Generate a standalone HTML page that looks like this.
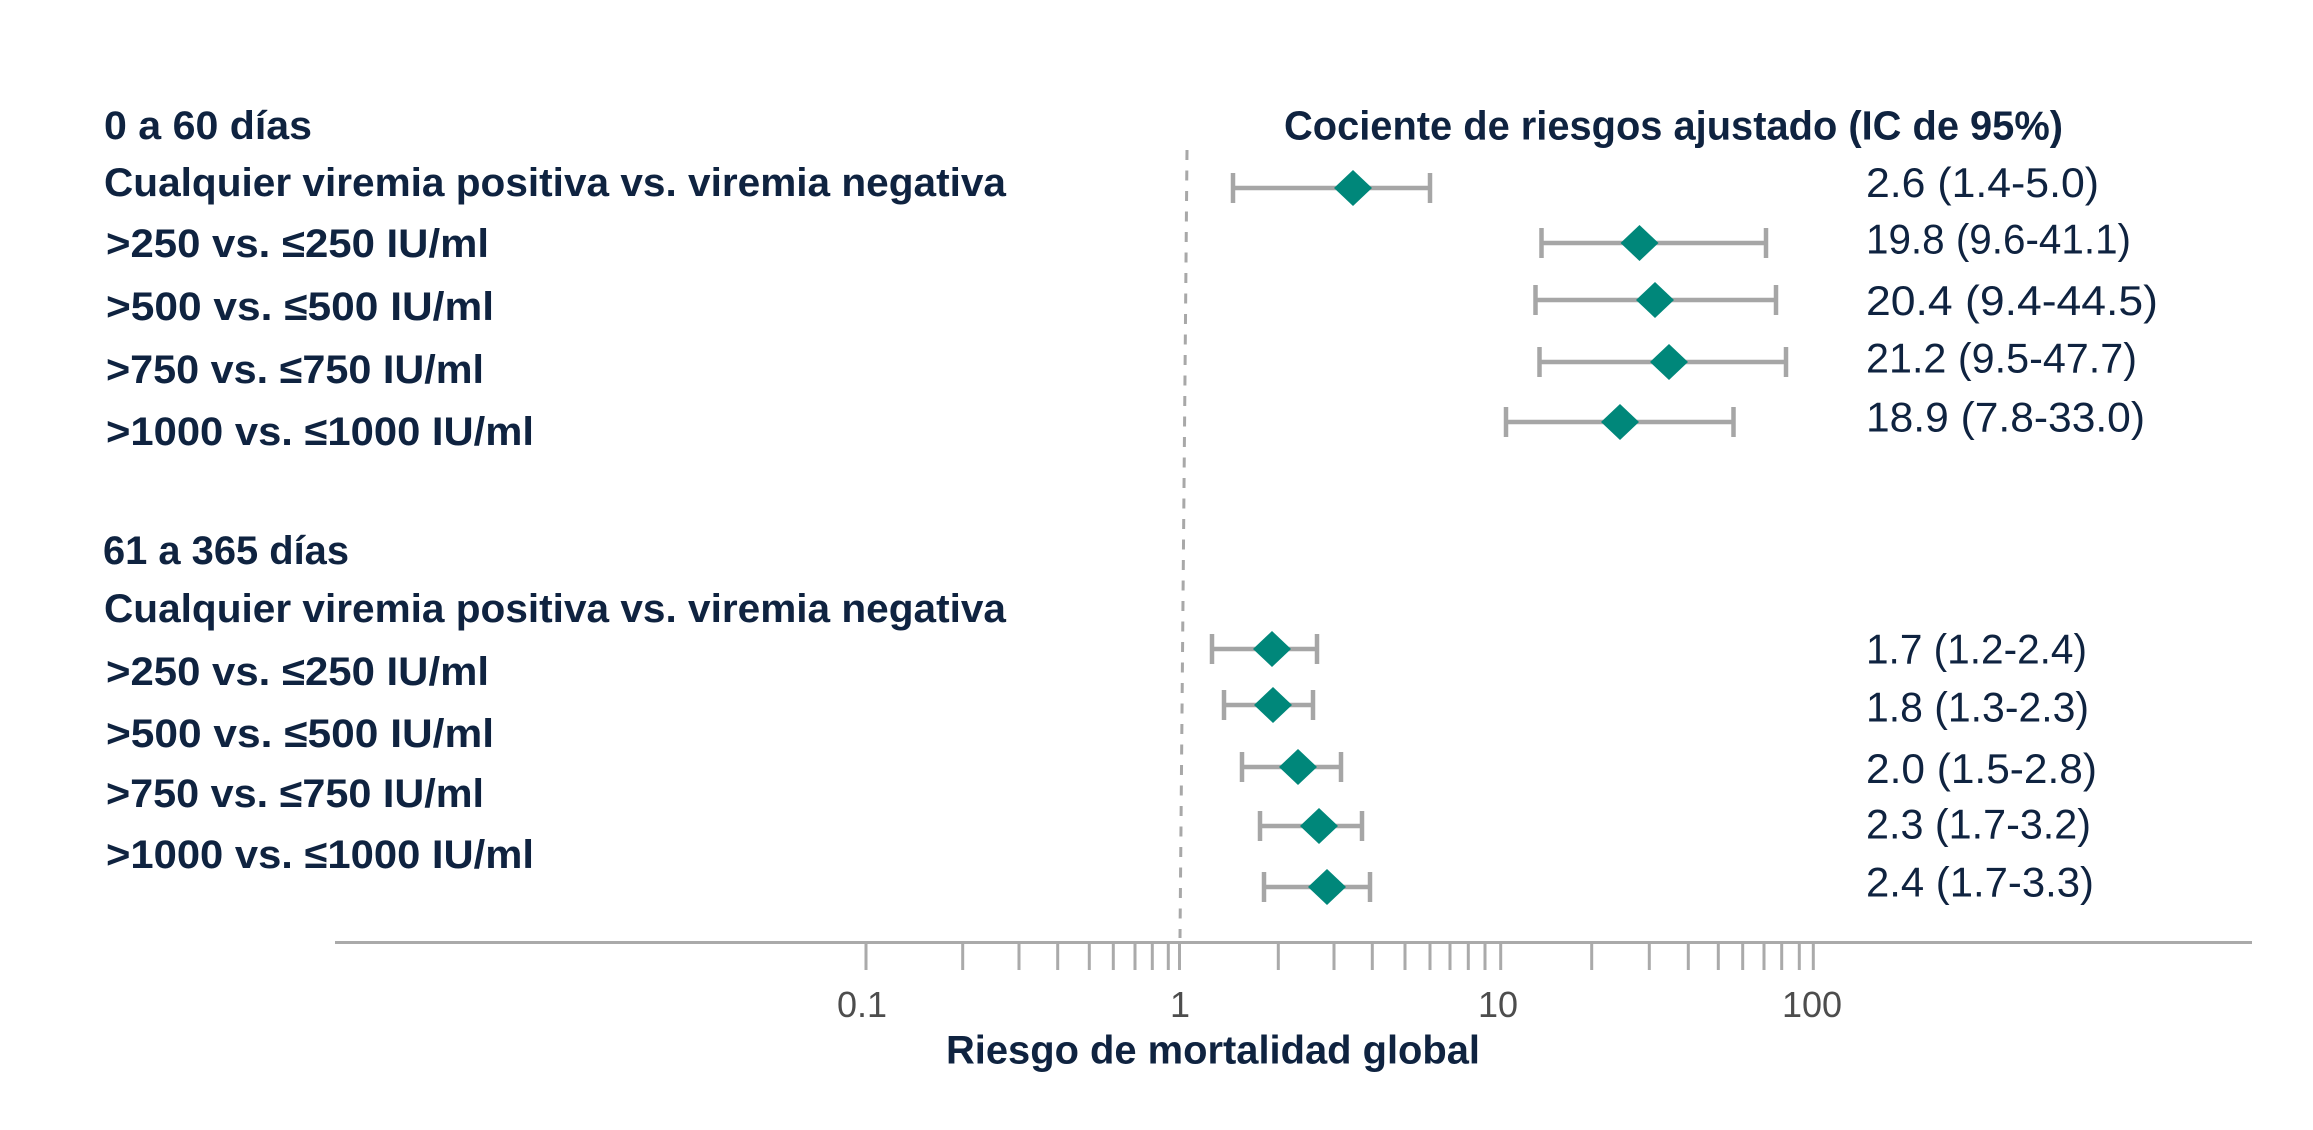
<!DOCTYPE html>
<html>
<head>
<meta charset="utf-8">
<style>
  html, body { margin: 0; padding: 0; background: #ffffff; }
  svg { display: block; }
  .lbl { font-family: "Liberation Sans", sans-serif; font-weight: bold; font-size: 40px; fill: #0f2340; }
  .hdr { font-family: "Liberation Sans", sans-serif; font-weight: bold; font-size: 41px; fill: #0f2340; }
  .val { font-family: "Liberation Sans", sans-serif; font-size: 42px; fill: #0f2340; }
  .tick { font-family: "Liberation Sans", sans-serif; font-size: 36px; fill: #4d4d4d; }
  .ttl { font-family: "Liberation Sans", sans-serif; font-weight: bold; font-size: 40px; fill: #0f2340; }
</style>
</head>
<body>
<svg width="2313" height="1130" viewBox="0 0 2313 1130" xmlns="http://www.w3.org/2000/svg">
  <rect width="2313" height="1130" fill="#ffffff"/>

  <!-- Left labels: top group -->
  <text class="lbl" x="104" y="139" textLength="208" lengthAdjust="spacingAndGlyphs">0 a 60 días</text>
  <text class="lbl" x="104" y="196" textLength="902" lengthAdjust="spacingAndGlyphs">Cualquier viremia positiva vs. viremia negativa</text>
  <text class="lbl" x="106" y="257" textLength="383" lengthAdjust="spacingAndGlyphs">&gt;250 vs. ≤250 IU/ml</text>
  <text class="lbl" x="106" y="320" textLength="388" lengthAdjust="spacingAndGlyphs">&gt;500 vs. ≤500 IU/ml</text>
  <text class="lbl" x="106" y="383" textLength="378" lengthAdjust="spacingAndGlyphs">&gt;750 vs. ≤750 IU/ml</text>
  <text class="lbl" x="106" y="445" textLength="428" lengthAdjust="spacingAndGlyphs">&gt;1000 vs. ≤1000 IU/ml</text>

  <!-- Left labels: bottom group -->
  <text class="lbl" x="103" y="564" textLength="246" lengthAdjust="spacingAndGlyphs">61 a 365 días</text>
  <text class="lbl" x="104" y="622" textLength="902" lengthAdjust="spacingAndGlyphs">Cualquier viremia positiva vs. viremia negativa</text>
  <text class="lbl" x="106" y="685" textLength="383" lengthAdjust="spacingAndGlyphs">&gt;250 vs. ≤250 IU/ml</text>
  <text class="lbl" x="106" y="747" textLength="388" lengthAdjust="spacingAndGlyphs">&gt;500 vs. ≤500 IU/ml</text>
  <text class="lbl" x="106" y="807" textLength="378" lengthAdjust="spacingAndGlyphs">&gt;750 vs. ≤750 IU/ml</text>
  <text class="lbl" x="106" y="868" textLength="428" lengthAdjust="spacingAndGlyphs">&gt;1000 vs. ≤1000 IU/ml</text>

  <!-- Header -->
  <text class="hdr" x="1284" y="139.5" textLength="779" lengthAdjust="spacingAndGlyphs">Cociente de riesgos ajustado (IC de 95%)</text>

  <!-- Values top -->
  <text class="val" x="1866" y="197" textLength="233" lengthAdjust="spacingAndGlyphs">2.6 (1.4-5.0)</text>
  <text class="val" x="1866" y="253.5" textLength="265" lengthAdjust="spacingAndGlyphs">19.8 (9.6-41.1)</text>
  <text class="val" x="1866" y="315" textLength="292" lengthAdjust="spacingAndGlyphs">20.4 (9.4-44.5)</text>
  <text class="val" x="1866" y="372.5" textLength="271" lengthAdjust="spacingAndGlyphs">21.2 (9.5-47.7)</text>
  <text class="val" x="1866" y="431.5" textLength="279" lengthAdjust="spacingAndGlyphs">18.9 (7.8-33.0)</text>

  <!-- Values bottom -->
  <text class="val" x="1866" y="663.5" textLength="221" lengthAdjust="spacingAndGlyphs">1.7 (1.2-2.4)</text>
  <text class="val" x="1866" y="721.5" textLength="223" lengthAdjust="spacingAndGlyphs">1.8 (1.3-2.3)</text>
  <text class="val" x="1866" y="783" textLength="231" lengthAdjust="spacingAndGlyphs">2.0 (1.5-2.8)</text>
  <text class="val" x="1866" y="838.5" textLength="225" lengthAdjust="spacingAndGlyphs">2.3 (1.7-3.2)</text>
  <text class="val" x="1866" y="896.5" textLength="228" lengthAdjust="spacingAndGlyphs">2.4 (1.7-3.3)</text>

  <!-- Reference dashed line at 1 -->
  <line x1="1187" y1="150" x2="1180" y2="938" stroke="#a8a8a8" stroke-width="3" stroke-dasharray="10 10.5"/>

  <!-- Axis -->
  <line x1="335" y1="942.5" x2="2252" y2="942.5" stroke="#aaaaaa" stroke-width="3"/>
  <g stroke="#aaaaaa" stroke-width="3">
    <line x1="866" y1="944" x2="866" y2="970"/>
    <line x1="962.7" y1="944" x2="962.7" y2="970"/>
    <line x1="1019" y1="944" x2="1019" y2="970"/>
    <line x1="1057.7" y1="944" x2="1057.7" y2="970"/>
    <line x1="1089.3" y1="944" x2="1089.3" y2="970"/>
    <line x1="1113.3" y1="944" x2="1113.3" y2="970"/>
    <line x1="1135" y1="944" x2="1135" y2="970"/>
    <line x1="1152.3" y1="944" x2="1152.3" y2="970"/>
    <line x1="1168.3" y1="944" x2="1168.3" y2="970"/>
    <line x1="1179.5" y1="944" x2="1179.5" y2="970"/>
    <line x1="1278.3" y1="944" x2="1278.3" y2="970"/>
    <line x1="1334" y1="944" x2="1334" y2="970"/>
    <line x1="1372.3" y1="944" x2="1372.3" y2="970"/>
    <line x1="1405" y1="944" x2="1405" y2="970"/>
    <line x1="1430" y1="944" x2="1430" y2="970"/>
    <line x1="1450" y1="944" x2="1450" y2="970"/>
    <line x1="1468.3" y1="944" x2="1468.3" y2="970"/>
    <line x1="1485" y1="944" x2="1485" y2="970"/>
    <line x1="1500.7" y1="944" x2="1500.7" y2="970"/>
    <line x1="1591.7" y1="944" x2="1591.7" y2="970"/>
    <line x1="1649.3" y1="944" x2="1649.3" y2="970"/>
    <line x1="1688.3" y1="944" x2="1688.3" y2="970"/>
    <line x1="1718.3" y1="944" x2="1718.3" y2="970"/>
    <line x1="1742.7" y1="944" x2="1742.7" y2="970"/>
    <line x1="1764" y1="944" x2="1764" y2="970"/>
    <line x1="1781.7" y1="944" x2="1781.7" y2="970"/>
    <line x1="1799.3" y1="944" x2="1799.3" y2="970"/>
    <line x1="1813.3" y1="944" x2="1813.3" y2="970"/>
  </g>

  <!-- Tick labels -->
  <text class="tick" x="862" y="1017" text-anchor="middle">0.1</text>
  <text class="tick" x="1180" y="1017" text-anchor="middle">1</text>
  <text class="tick" x="1498" y="1017" text-anchor="middle">10</text>
  <text class="tick" x="1812" y="1017" text-anchor="middle">100</text>

  <!-- Axis title -->
  <text class="ttl" x="946" y="1063.5" textLength="534" lengthAdjust="spacingAndGlyphs">Riesgo de mortalidad global</text>

  <!-- Error bars & diamonds -->
  <g stroke="#a6a6a6" stroke-width="4.5" fill="none">
    <!-- top -->
    <line x1="1233" y1="188" x2="1430" y2="188"/><line x1="1233" y1="173" x2="1233" y2="203"/><line x1="1430" y1="173" x2="1430" y2="203"/>
    <line x1="1541.5" y1="243" x2="1766" y2="243"/><line x1="1541.5" y1="228" x2="1541.5" y2="258"/><line x1="1766" y1="228" x2="1766" y2="258"/>
    <line x1="1535.5" y1="300" x2="1776" y2="300"/><line x1="1535.5" y1="285" x2="1535.5" y2="315"/><line x1="1776" y1="285" x2="1776" y2="315"/>
    <line x1="1539.5" y1="362" x2="1786" y2="362"/><line x1="1539.5" y1="347" x2="1539.5" y2="377"/><line x1="1786" y1="347" x2="1786" y2="377"/>
    <line x1="1506" y1="422" x2="1733.5" y2="422"/><line x1="1506" y1="407" x2="1506" y2="437"/><line x1="1733.5" y1="407" x2="1733.5" y2="437"/>
    <!-- bottom -->
    <line x1="1212" y1="649" x2="1317" y2="649"/><line x1="1212" y1="634" x2="1212" y2="664"/><line x1="1317" y1="634" x2="1317" y2="664"/>
    <line x1="1224" y1="705" x2="1313" y2="705"/><line x1="1224" y1="690" x2="1224" y2="720"/><line x1="1313" y1="690" x2="1313" y2="720"/>
    <line x1="1242" y1="767" x2="1341" y2="767"/><line x1="1242" y1="752" x2="1242" y2="782"/><line x1="1341" y1="752" x2="1341" y2="782"/>
    <line x1="1260" y1="826" x2="1362" y2="826"/><line x1="1260" y1="811" x2="1260" y2="841"/><line x1="1362" y1="811" x2="1362" y2="841"/>
    <line x1="1264" y1="887" x2="1370" y2="887"/><line x1="1264" y1="872" x2="1264" y2="902"/><line x1="1370" y1="872" x2="1370" y2="902"/>
  </g>
  <g fill="#00877a">
    <polygon points="1353,170 1372,188 1353,206 1334,188"/>
    <polygon points="1639.5,225 1658.5,243 1639.5,261 1620.5,243"/>
    <polygon points="1655,282 1674,300 1655,318 1636,300"/>
    <polygon points="1669,344 1688,362 1669,380 1650,362"/>
    <polygon points="1620,404 1639,422 1620,440 1601,422"/>

    <polygon points="1272,631 1291,649 1272,667 1253,649"/>
    <polygon points="1273,687 1292,705 1273,723 1254,705"/>
    <polygon points="1298,749 1317,767 1298,785 1279,767"/>
    <polygon points="1319,808 1338,826 1319,844 1300,826"/>
    <polygon points="1327,869 1346,887 1327,905 1308,887"/>
  </g>
</svg>
</body>
</html>
